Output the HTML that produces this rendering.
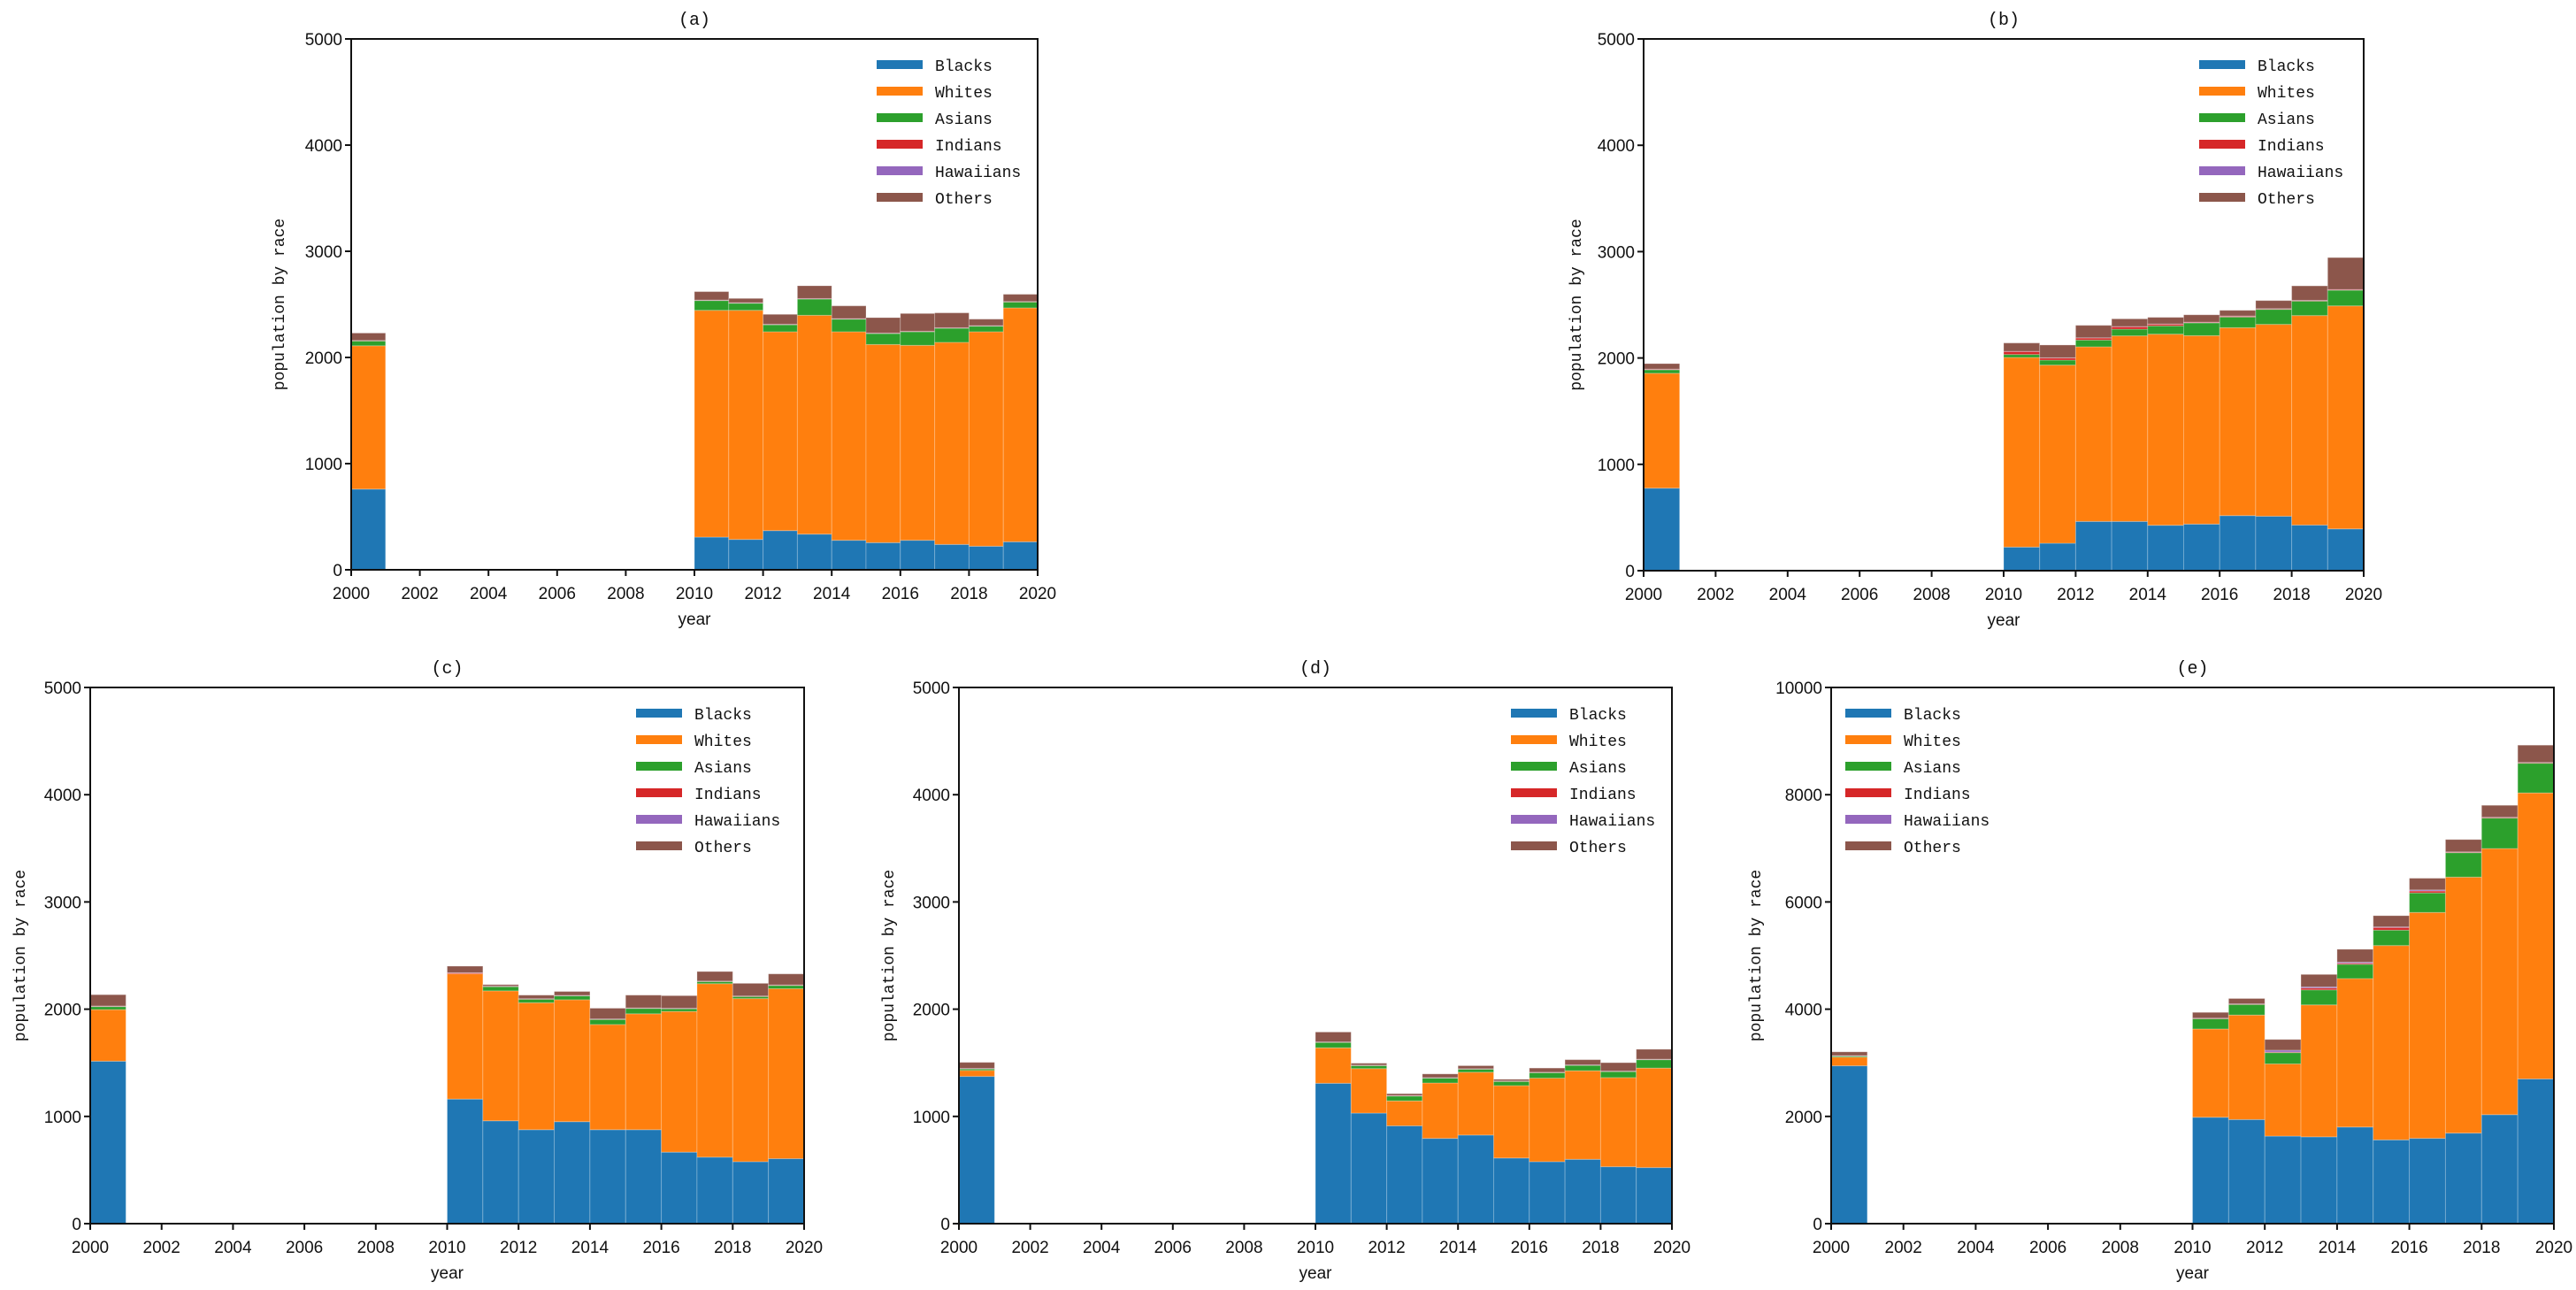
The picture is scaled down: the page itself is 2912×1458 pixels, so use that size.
<!DOCTYPE html>
<html><head><meta charset="utf-8"><style>
html,body{margin:0;padding:0;background:#fff;}
svg text{fill:#111;}
</style></head>
<body>
<svg id="fig" xmlns="http://www.w3.org/2000/svg" width="2912" height="1453" viewBox="0 0 2912 1453"></svg>
<script>
// ---- data ----
const years = [2000,2010,2011,2012,2013,2014,2015,2016,2017,2018,2019];
const seriesNames = ["Blacks","Whites","Asians","Indians","Hawaiians","Others"];
const colors = ["#1f77b4","#ff7f0e","#2ca02c","#d62728","#9467bd","#8c564b"];
const xTicks = [2000,2002,2004,2006,2008,2010,2012,2014,2016,2018,2020];
const yTicks5000 = [0,1000,2000,3000,4000,5000];
const yTicks10000 = [0,2000,4000,6000,8000,10000];

const aBlacks = [760,308,286,369,336,278,256,278,239,222,264];
const aWhites = [1350,2136,2158,1873,2061,1964,1866,1836,1903,2020,2203];
const aAsians = [45,92,67,66,153,119,103,128,133,53,55];
const aIndians = [3,3,3,3,3,3,3,3,3,3,3];
const aHawaiians = [2,2,2,2,2,2,2,2,2,2,2];
const aOthers = [70,79,40,93,120,120,145,167,140,61,68];

const bBlacks = [776,222,258,463,463,427,438,518,512,429,393];
const bWhites = [1080,1783,1675,1642,1745,1797,1772,1767,1804,1970,2097];
const bAsians = [33,28,47,64,63,78,120,100,141,136,147];
const bIndians = [5,28,20,19,23,16,5,8,5,5,5];
const bHawaiians = [2,2,2,2,2,2,2,2,2,2,2];
const bOthers = [51,78,120,117,72,62,69,53,76,136,300];

const cBlacks = [1515,1162,959,876,951,876,876,667,620,578,606];
const cWhites = [481,1168,1212,1184,1137,981,1081,1312,1618,1521,1585];
const cAsians = [28,0,39,33,36,47,50,25,19,19,30];
const cIndians = [4,8,3,3,3,3,3,3,3,3,3];
const cHawaiians = [2,2,2,2,2,2,2,2,2,2,2];
const cOthers = [105,61,14,33,36,100,119,117,89,118,103];

const dBlacks = [1373,1309,1031,912,795,826,612,578,600,531,523];
const dWhites = [56,331,415,233,517,586,675,779,826,831,928];
const dAsians = [14,50,27,45,45,28,39,50,50,56,78];
const dIndians = [3,3,3,3,3,3,3,3,3,3,3];
const dHawaiians = [2,2,2,2,2,2,2,2,2,2,2];
const dOthers = [56,92,18,17,34,28,15,39,48,78,92];

const eBlacks = [2944,1984,1942,1633,1619,1802,1563,1591,1689,2033,2699];
const eWhites = [161,1647,1949,1346,2461,2769,3624,4213,4774,4963,5335];
const eAsians = [20,189,196,211,280,266,288,365,456,568,553];
const eIndians = [5,8,8,10,35,20,49,35,10,10,10];
const eHawaiians = [5,5,5,35,20,20,10,20,5,5,5];
const eOthers = [69,107,99,200,233,240,210,218,230,223,322];

const panels = [
  {id:"a", L:397, R:1173, T:44, B:644, yMax:5000, ticks:yTicks5000, legX:991, legY:73, ylabX:321,
   series:[aBlacks,aWhites,aAsians,aIndians,aHawaiians,aOthers]},
  {id:"b", L:1858, R:2672, T:44, B:645, yMax:5000, ticks:yTicks5000, legX:2486, legY:73, ylabX:1787,
   series:[bBlacks,bWhites,bAsians,bIndians,bHawaiians,bOthers]},
  {id:"c", L:102, R:909, T:777, B:1383, yMax:5000, ticks:yTicks5000, legX:719, legY:806, ylabX:28,
   series:[cBlacks,cWhites,cAsians,cIndians,cHawaiians,cOthers]},
  {id:"d", L:1084, R:1890, T:777, B:1383, yMax:5000, ticks:yTicks5000, legX:1708, legY:806, ylabX:1010,
   series:[dBlacks,dWhites,dAsians,dIndians,dHawaiians,dOthers]},
  {id:"e", L:2070, R:2887, T:777, B:1383, yMax:10000, ticks:yTicks10000, legX:2086, legY:806, ylabX:1990,
   series:[eBlacks,eWhites,eAsians,eIndians,eHawaiians,eOthers]}
];

const NS = "http://www.w3.org/2000/svg";
const svg = document.getElementById("fig");
function mk(tag, attrs, parent){
  const el = document.createElementNS(NS, tag);
  for (const k in attrs) el.setAttribute(k, attrs[k]);
  (parent||svg).appendChild(el);
  return el;
}

panels.forEach(p => {
  const g = mk("g", {});
  
  
  const xs = v => p.L + (v - 2000) / 20 * (p.R - p.L);
  const ys = v => p.B - v / p.yMax * (p.B - p.T);

  // bars
  years.forEach((yr, i) => {
    let base = 0;
    p.series.forEach((arr, s) => {
      const v = arr[i];
      if (v <= 0) return;
      const r = mk("rect", {x: xs(yr), y: ys(base + v), width: xs(yr + 1) - xs(yr),
        height: ys(base) - ys(base + v), fill: colors[s], stroke: "rgba(255,255,255,0.25)", "stroke-width": 1}, g);
      
      
      base += v;
    });
  });

  // frame
  const fr = mk("rect", {x: p.L, y: p.T, width: p.R - p.L, height: p.B - p.T, fill: "none", stroke: "#111", "stroke-width": 2}, g);
  
  

  // x ticks
  xTicks.forEach(t => {
    mk("line", {x1: xs(t), x2: xs(t), y1: p.B, y2: p.B + 7, stroke: "#111", "stroke-width": 2}, g);
    const tx = mk("text", {x: xs(t), y: p.B + 33, "text-anchor": "middle", "font-family": "Liberation Sans, sans-serif", "font-size": 19}, g);
    tx.textContent = t;
    
    
  });
  // y ticks
  p.ticks.forEach(t => {
    mk("line", {x1: p.L - 7, x2: p.L, y1: ys(t), y2: ys(t), stroke: "#111", "stroke-width": 2}, g);
    const ty = mk("text", {x: p.L - 10, y: ys(t) + 7, "text-anchor": "end", "font-family": "Liberation Sans, sans-serif", "font-size": 19}, g);
    ty.textContent = t;
    
    
  });

  // title
  const ti = mk("text", {x: (p.L + p.R) / 2, y: p.T - 16, "text-anchor": "middle", "font-family": "Liberation Mono, monospace", "font-size": 20}, g);
  ti.textContent = "(" + p.id + ")";
  
  

  // x label
  const xl = mk("text", {x: (p.L + p.R) / 2, y: p.B + 62, "text-anchor": "middle", "font-family": "Liberation Sans, sans-serif", "font-size": 19}, g);
  xl.textContent = "year";
  
  

  // y label
  const cy = (p.T + p.B) / 2;
  const yl = mk("text", {x: p.ylabX, y: cy, "text-anchor": "middle", "font-family": "Liberation Mono, monospace", "font-size": 18,
    transform: "rotate(-90 " + p.ylabX + " " + cy + ")"}, g);
  yl.textContent = "population by race";
  
  

  // legend
  seriesNames.forEach((n, s) => {
    const yy = p.legY + s * 30;
    const h = mk("rect", {x: p.legX, y: yy - 5, width: 52, height: 10, fill: colors[s]}, g);
    
    
    const lt = mk("text", {x: p.legX + 66, y: yy + 7, "font-family": "Liberation Mono, monospace", "font-size": 18}, g);
    lt.textContent = n;
    
    
  });
});
</script>
</body></html>
